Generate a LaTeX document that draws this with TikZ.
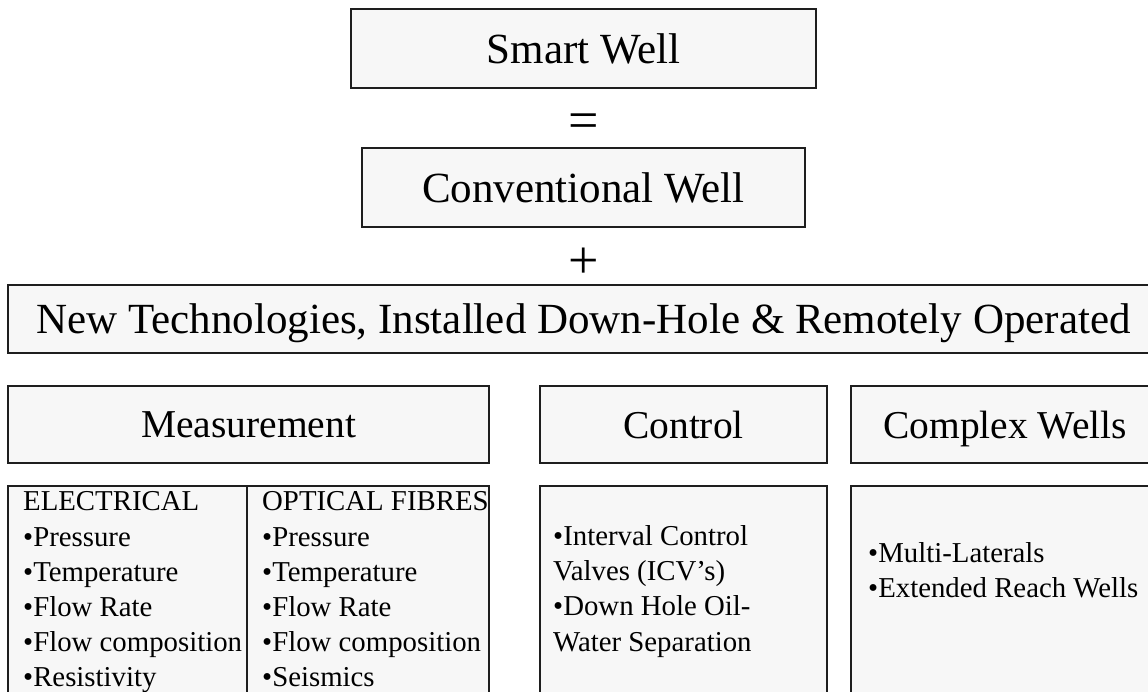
\documentclass[tikz,border=0pt]{standalone}
\usepackage{fontspec}
\setmainfont{Liberation Serif}
\usetikzlibrary{positioning}
\definecolor{Edge}{HTML}{1E1E1E}
\definecolor{Paper}{HTML}{F7F7F7}
\tikzset{
  box/.style={draw=Edge,fill=Paper,line width=2pt,inner sep=0pt},
  head/.style={box,font=\fontsize{43}{50}\selectfont,text depth=0pt},
  subhead/.style={box,font=\fontsize{39.5}{46}\selectfont,text depth=0pt},
  items/.style={align=left,anchor=north west,inner sep=0pt,font=\fontsize{28.8}{35.2}\selectfont},
  sign/.style={inner sep=0pt,font=\fontsize{54}{54}\selectfont}
}
\begin{document}
\begin{tikzpicture}[x=1pt,y=-1pt]
  \clip (0,0) rectangle (1148,691);
  \fill[white] (0,0) rectangle (1148,691);
  % the equation at the top
  \node[head,minimum width=465pt,minimum height=79pt] (smart) at (583.5,48.5) {Smart Well};
  \node[sign] (equals) at (583.5,126) {=};
  \node[head,minimum width=443pt,minimum height=79pt] (conv) at (583.5,187.5) {Conventional Well};
  \node[sign] (plus) at (583.5,263) {+};
  \node[head,minimum width=1151pt,minimum height=68pt] (newtech) at (583.5,319) {New Technologies, Installed Down-Hole \& Remotely Operated};
  % three headings
  \node[subhead,minimum width=481pt,minimum height=77.5pt] (meas) at (248.5,424.3) {Measurement};
  \node[subhead,minimum width=287pt,minimum height=77.5pt] (ctrl) at (683.5,424.3) {Control};
  \node[subhead,minimum width=308pt,minimum height=77.5pt] (cplx) at (1005,424.3) {Complex Wells};
  % and the boxes below them
  \node[box,minimum width=239pt,minimum height=234pt] (elec) at (127.5,603) {};
  \node[box,minimum width=242pt,minimum height=234pt] (optic) at (368,603) {};
  \node[box,minimum width=287pt,minimum height=234pt] (ctrlbox) at (683.5,603) {};
  \node[box,minimum width=308pt,minimum height=234pt] (cplxbox) at (1005,603) {};
  \node[items] (eleclist) at (23,491.6) {ELECTRICAL\\•Pressure\\•Temperature\\•Flow Rate\\•Flow composition\\•Resistivity};
  \node[items] (opticlist) at (262,491.6) {OPTICAL FIBRES\\•Pressure\\•Temperature\\•Flow Rate\\•Flow composition\\•Seismics};
  \node[items] (ctrllist) at (553,525.3) {•Interval Control\\Valves (ICV’s)\\•Down Hole Oil-\\Water Separation};
  \node[items] (cplxlist) at (868,542.3) {•Multi-Laterals\\•Extended Reach Wells};
\end{tikzpicture}
\end{document}
